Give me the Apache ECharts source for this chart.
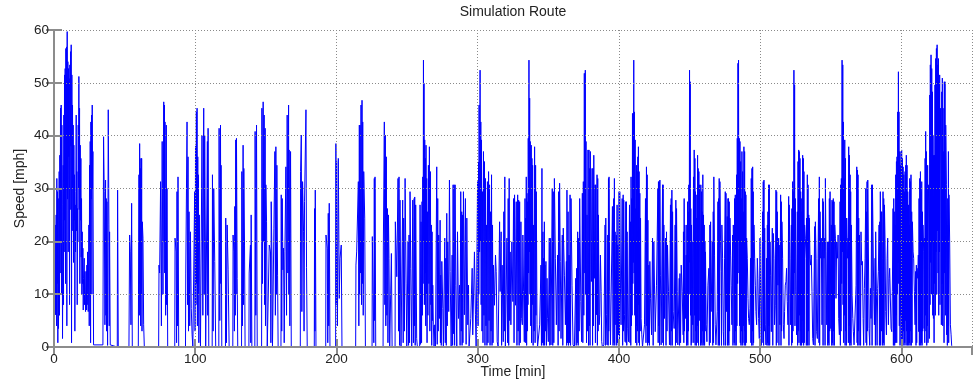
<!DOCTYPE html>
<html>
<head>
<meta charset="utf-8">
<script src="https://cdn.jsdelivr.net/npm/echarts@6/dist/echarts.min.js"></script>
<style>
html,body{margin:0;padding:0;background:#fff;}
#chart{width:974px;height:386px;}
</style>
</head>
<body>
<div id="chart"></div>
<script>
// Time [min], Speed [mph] pairs
const routeA = [
[0,0.4],[0.36,23.7],[0.6,8],[0.83,23.1],[1.06,6.1],[1.54,25],[1.78,4],[2.01,31.9],[2.25,12],[2.48,29.4],[2.72,0.8],[2.96,28.1],[3.19,3.5],[3.67,33.2],[3.9,6],[4.14,36.3],[4.38,14],[4.61,45.2],[4.85,20],[5.08,45.8],[5.32,10],[5.56,42],[5.79,26.9],[6.03,1.6],[6.5,34.4],[6.74,8],[6.98,43.9],[7.2,18],[7.45,51.5],[7.68,24],[7.92,52.7],[8.15,12],[8.39,56.5],[8.63,30],[8.87,56.8],[9.1,4],[9.34,59.7],[9.57,28],[9.81,54],[10.05,18],[10.28,52.7],[10.52,36],[10.76,50.8],[11.0,8],[11.23,53.4],[11.46,26],[11.7,55.9],[11.94,38],[12.18,57.2],[12.42,0.8],[12.65,51.5],[12.88,22],[13.12,45.8],[13.35,30],[13.59,42],[13.83,16],[14.07,38.2],[14.3,24],[14.54,32.6],[14.77,3],[15.01,26.9],[15.25,18],[15.49,29.4],[15.72,43.9],[15.95,22],[16.19,33.2],[16.43,8],[16.67,26.2],[16.9,20],[17.14,42],[17.37,30],[17.61,51.2],[17.85,26],[18.09,45.2],[18.32,12],[18.56,38.2],[18.8,24],[19.03,35.7],[19.26,17],[19.5,28.1],[19.74,10],[19.98,21.8],[20.2,12],[20.45,18.7],[20.7,7],[20.92,13],[21.4,16.8],[21.63,8],[21.87,14.3],[22.34,6.7],[22.81,14.3],[23.05,7],[23.29,15.5],[23.52,8],[23.76,18],[24.23,6.7],[24.71,23.1],[24.95,4],[25.18,34.4],[25.4,20],[25.65,38.9],[25.9,0.8],[26.12,42.6],[26.36,28],[26.6,43.9],[26.84,10],[27.07,45.8],[27.3,30],[27.54,37],[28.01,0.4],
[34.63,0.4],[35.1,39.8],[35.58,29.4],[36.05,4.2],[36.52,31.6],[36.75,6],[37.0,28.1],[37.25,3],[37.47,27.5],[37.94,0.3],[38.42,44.9],[38.89,23.1],[39.1,4],[39.36,21.8],[39.83,0.4],
[44.8,0],[45.03,29.7],[45.51,0],[53.07,0],[53.55,21.2],[54.02,18],[54.49,4.2],[54.97,27.2],[55.44,0],
[59.69,0],[60.17,32.6],[60.4,6],[60.64,38.5],[60.9,12],[61.11,33.8],[61.35,4],[61.58,35.7],[61.8,10],[62.06,35.7],[62.3,3],[62.53,23.7],[63.0,20.6],[63.48,4.2],[63.95,0],
[74.1,0],[74.35,15.5],[74.8,14],[75.5,31.3],[76.05,4],[76.6,38.9],[77.15,10],[77.7,46.4],[77.95,20],[78.2,45.8],[78.4,14],[78.6,42.6],[79.05,6],[79.5,42],[79.75,8],[80.0,30],[80.5,0],
[85.5,0],[85.7,20.6],[86.5,18],[86.8,0.8],[87.1,29.4],[87.45,4],[87.8,32.2],[88.3,0],
[93.1,0],[93.3,14],[94.2,42.6],[94.55,8],[94.9,36],[95.25,3],[95.6,25.6],[96.1,4],[96.6,21.8],[97.2,7.3],[97.8,2.3],[98.3,0],
[99.4,0],[99.6,29.4],[99.9,3],[100.2,38],[100.5,8],[100.8,44.5],[101.05,12],[101.3,45.2],[101.55,4],[101.8,36],[102.0,10],[102.2,32.6],[102.55,0.8],[102.9,25],[103.7,0],
[104.6,0],[104.8,40],[105.4,6],[106.0,45.2],[106.35,10],[106.7,40],[107.2,20],[107.4,0],
[108.4,0],[108.6,38.9],[108.85,6],[109.1,41.4],[109.6,0],
[112.0,0],[112.2,32.6],[112.65,3],[113.1,30],[113.8,16.2],[114.5,0],
[116.7,0],[116.9,41.4],[117.4,5],[117.9,42],[118.1,12],[118.3,34.4],[118.8,0],
[121.4,0],[121.6,24.4],[122.1,0.8],[122.6,23.1],[123.3,14.6],[124.0,0]
];
const routeB = [
[126.6,0],[126.8,21.2],[127.4,18],[127.7,3],[128.0,26.6],[128.35,6],[128.7,39.2],[128.95,10],[129.2,39.5],[129.7,13],[130.1,0],
[132.8,0],[133.0,33.2],[133.45,4],[133.9,38.2],[134.15,8],[134.4,33.8],[134.9,19.3],[135.3,0],
[138.0,0],[138.2,14],[139.1,19.3],[139.35,0.8],[139.6,25],[140.1,0],
[142.2,0],[142.4,40.8],[142.9,6],[143.4,42],[143.9,0],
[147.0,0],[147.2,45.2],[147.65,12],[148.1,46.4],[148.45,20],[148.8,43.9],[149.15,8],[149.5,41.4],[149.75,4],[150.0,30.7],[150.5,23.7],[151.0,0],
[152.2,0],[152.4,19.3],[153.3,18],[153.55,0.8],[153.8,27.5],[154.3,17.4],[154.7,0],
[155.5,0],[155.7,22.5],[156.4,37],[156.75,6],[157.1,37.9],[157.45,10],[157.8,34.4],[158.3,13.6],[158.7,0],
[160.7,0],[160.9,28.8],[161.25,3],[161.6,28.1],[162.1,14.6],[162.5,18.7],[163.0,0.8],[163.5,18],[164.2,34.1],[164.65,6],[165.1,43.9],[165.6,14],[166.1,45.8],[166.3,10],[166.5,37.3],[167.0,4],[167.5,37],[168.0,0],
[174.4,0],[174.6,33.2],[175.1,40.1],[175.5,6.7],[176.0,31.3],[176.7,21.8],[177.05,3],[177.4,27.5],[178.4,44.9],[178.8,15.1],[179.3,0],
[184.3,0],[184.5,26.2],[184.75,3],[185.0,29.7],[185.5,0],
[192.4,0],[192.6,21.2],[193.5,18.7],[193.85,0.8],[194.2,25.3],[194.55,4],[194.9,27.2],[195.4,0],
[199.4,0],[199.6,38.5],[199.85,8],[200.1,35.1],[200.7,4],[201.3,35.7],[202.0,9.2],[202.5,16.8],[203.4,19.3],[203.9,0],
[213.6,0],[213.8,15.5],[214.3,18],[215.5,31.3],[215.85,4],[216.2,42],[216.45,10],[216.7,42],[217.05,14],[217.4,45.8],[217.75,8],[218.1,46.7],[218.35,12],[218.6,42.6],[218.95,6],[219.3,33.2],[220.0,24.4],[220.5,0],
[225.2,0],[225.4,20.9],[226.1,20.6],[226.45,0.8],[226.8,31.9],[227.05,5],[227.3,32.2],[227.8,0],
[233.0,0],[233.2,19.3],[233.9,42.6],[234.25,8],[234.6,40.1],[234.95,4],[235.3,36],[235.7,6],[236.1,26.2],[236.45,0.8],[236.8,25],[237.2,16.8],[237.7,0],
[238.7,0],[238.9,17.7],[239.4,0],
[241.5,0],[241.7,23.7],[242.7,13.3],[243.6,31.9],[243.95,3],[244.3,32.2],[244.65,0.3],[245.0,27.8],[245.7,0],
[246.7,0],[246.9,27.8],[247.25,0.8],[247.6,24.4],[248.1,3],[248.6,31.9],[249.3,12.1],[249.8,0],
[250.5,0],[250.7,20],[251.05,0.3],[251.4,21.2],[251.75,0.8],[252.1,29.4],[252.6,14.9],[253.3,0],
[253.8,0],[254.0,27.8],[254.5,0.8],[255.0,28.1],[255.2,4],[255.4,28.4],[255.75,0.3],[256.1,26.9],[256.8,1.6],[257.3,0]
];
const routeC = [
[258.9,0],[259.2,26.9],[259.55,0.5],[259.9,23.7],[260.25,0.8],[260.6,27.5],[260.85,6],[261.1,32.2],[261.35,12],[261.6,54.3],[261.8,20],[262.0,49.9],[262.25,8],[262.5,39.2],[262.75,14],[263.0,35.7],[263.2,4],[263.4,38.2],[263.65,10],[263.9,31.9],[264.15,0.8],[264.4,25.6],[264.75,6],[265.1,34.4],[265.45,12],[265.8,37.9],[266.15,3],[266.5,33.2],[266.85,8],[267.2,23.1],[267.45,0.3],[267.7,21.8],[267.95,5],[268.2,11.7],[268.6,4.2],[269.1,0],[269.6,4.2],[270.1,0],
[270.8,0],[271.0,34.1],[271.35,0.5],[271.7,28.1],[272.05,3],[272.4,21.2],[272.9,5.4],[273.4,24],[273.6,0.8],[273.8,13.6],[274.2,0.3],[274.6,16.2],[275.3,7.3],[275.7,0],
[276.5,0],[276.7,20.6],[277.05,0.8],[277.4,16.8],[277.75,0.3],[278.1,25.3],[278.45,4],[278.8,19.9],[279.5,6.7],[280.0,31.6],[280.5,14.3],[281.2,0],
[281.7,0],[281.9,17.4],[282.25,0.3],[282.6,30.7],[282.95,2.5],[283.3,30.7],[283.65,0.3],[284.0,30.7],[284.5,11.7],[285.2,0],
[285.7,21.8],[286.4,5.4],[287.1,11.7],[287.55,0.3],[288.0,29.4],[288.35,3],[288.7,25.6],[288.95,0.3],[289.2,25],[289.55,0.8],[289.9,29.4],[290.6,6.1],[291.3,28.1],[291.8,0.5],[292.3,24.4],[293.0,4.2],[293.5,11.7],[293.9,0],
[295.1,5.4],[296.1,14.9],[296.5,2.3],[297.7,18],[298.4,6.1],[298.9,0],
[299.9,31.3],[300.25,4],[300.6,35],[300.8,10],[301.0,45.8],[301.35,18],[301.7,52.4],[301.95,20],[302.2,42.6],[302.45,8],[302.7,39.2],[303.05,3],[303.4,29.4],[303.75,0.8],[304.1,37],[304.45,6],[304.8,35.1],[305.15,0.3],[305.5,31.9],[305.85,4],[306.2,23.1],[306.55,0.3],[306.9,31.3],[307.3,0.8],[307.7,33.2],[308.05,5],[308.4,30.7],[308.75,0.3],[309.1,25.6],[309.45,3],[309.8,32.6],[310.15,0.3],[310.5,23.1],[310.85,0.8],[311.2,15.5],[311.9,7.9],[312.6,17.4],[313.1,14.3],[313.8,1.0],[314.5,0],
[315.5,23.7],[315.9,10.5],[316.6,21.8],[316.95,0.3],[317.3,15.5],[318.1,1.0],[318.5,25.6],[318.85,3],[319.2,32.2],[319.6,0],
[320.5,0],[320.7,20.6],[321.15,0.8],[321.6,28.1],[321.95,0.3],[322.3,31.9],[322.65,5],[323.0,18],[323.5,4.2],[324.2,19.9],[324.9,8.6],[325.4,28.1],[325.75,0.8],[326.1,28.8],[326.8,7.9],[327.3,27.5],[327.8,0.3],[328.3,28.8],[328.65,3],[329.0,27.8],[329.35,0.3],[329.7,27.5],[330.15,0.8],[330.6,23.7],[331.1,5.4],[331.6,4.2],[332.0,21.2],[332.5,10.5],[333.0,1.0],[333.5,28.1],[333.75,0.8],[334.0,24.4],[334.2,4],[334.4,32.2],[334.65,0.3],[334.9,29.1],[335.15,3],[335.4,27.5],[335.6,8],[335.8,39.5],[336.05,14],[336.3,54.3],[336.55,18],[336.8,47.1],[337.0,10],[337.2,38.9],[337.55,4],[337.9,38.2],[338.15,0.8],[338.4,35.7],[338.65,8],[338.9,34.4],[339.25,0.3],[339.6,23.1],[339.95,3],[340.3,37.9],[340.65,0.8],[341.0,34.4],[341.25,6],[341.5,29.4],[342.0,4.2],[342.4,0],
[343.9,4.2],[344.8,15.5],[345.15,0.3],[345.5,33.8],[345.85,0.8],[346.2,21.8],[346.45,0.3],[346.7,16.8],[346.95,0.8],[347.2,23.7],[347.4,0.3],[347.6,15.5],[347.95,3],[348.3,16.2],[348.7,0.3],[349.1,13.0],[349.5,5.4],[350.0,1.0],[350.7,20.6],[351.05,0.3],[351.4,20.6],[351.9,0.4],
[352.8,30],[353.15,0.3],[353.5,29.4],[353.9,0.8],[354.3,31.9],[355.0,16.8],[355.7,4.2],[356.6,17.4],[356.95,0.3],[357.3,29.4],[357.65,3],[358.0,31.0],[358.5,16.2],[359.0,1.6],
[359.9,21.2],[360.25,0.3],[360.6,22.5],[361.4,13.6],[362.1,4.2],[362.8,16.2],[363.0,0.3],[363.2,29.7],[363.6,0.8],[364.0,25.6],[364.35,0.3],[364.7,17.4],[365.05,0.8],[365.4,28.8],[365.75,0.3],[366.1,28.1],[366.8,11.7],[367.5,0.4],
[368.5,0],[369.4,13.0],[369.75,0.3],[370.1,14.9],[370.45,0.8],[370.8,21.8],[371.15,0.3],[371.5,20.6],[371.85,3],[372.2,28.1],[373.0,8.6],[373.6,1.0],[374.1,29.1],[374.45,0.8],[374.8,31.3],[375.15,6],[375.5,51.8],[375.85,14],[376.2,52.4],[376.45,10],[376.7,38.9],[377.05,0.8],[377.4,25.0],[377.75,3],[378.1,37.3],[378.45,0.3],[378.8,37.3],[379.05,4],[379.3,33.8],[379.55,0.3],
[379.8,37],[380.5,12.4],[381.0,33.8],[381.35,0.3],[381.7,33.8],[381.95,4],[382.2,36.3],[382.6,13],[383.1,30.7],[383.35,0.8],[383.6,30.7],[384.1,6.1],[384.5,32.6],[384.75,0.3],[385.0,31.9],[385.25,3],[385.5,25],[386.0,4.2],[386.4,6.1],[386.9,17.4],[387.4,10.5],[387.8,1.0],[388.3,0],[389.3,0.4],[390.2,23.1],[390.45,0.3],[390.7,24.4],[391.1,6.1],[391.6,0.4],[392.1,21.2],[392.35,0.3],[392.6,31.9],[392.8,3],[393.0,32.2],[393.5,10.5],[394.0,0.4],[395.4,26.6],[395.85,0.3],[396.3,28.1],[396.55,0.8],[396.8,31.9],[397.05,0.3],[397.3,21.8],[397.8,4.2],[398.2,21.2],[398.45,0.3],[398.7,26.9],[398.95,0.8],[399.2,19.3],[399.7,2.3],[400.1,29.4],[400.35,0.3],[400.6,29.4],[401.1,11.1],[401.5,4.2],[402.3,28.1],[402.65,0.3],[403.0,28.8],[403.2,3],[403.4,27.8],[403.9,6.1],[404.4,1.0],[404.9,27.5],[405.1,0.8],[405.3,27.5],[405.55,0.3],[405.8,21.8],[406.3,3.5],[406.8,1.0],[407.5,26.9],[407.85,0.8],[408.2,23.7],[408.4,0.3],[408.6,32.2],[408.85,4],[409.1,28.1],[409.35,6],[409.6,44.2],[409.85,12],[410.1,44.2],[410.3,16],[410.5,54.3],[410.75,14],[411.0,44.5],[411.25,6],[411.5,39.2],[411.75,0.8],[412.0,26.2],[412.2,4],[412.4,34.4],[412.65,0.3],[412.9,33.2],[413.15,3],[413.4,36.0],[413.6,8],[413.8,37.9],[414.05,0.8],[414.3,33.2],[414.55,0.3],[414.8,29.1],[415.05,3],[415.3,24.4],[415.7,5.4],[416.2,2.3],[416.7,0],[418.1,4.2],[418.8,28.1],[419.15,0.8],[419.5,34.1],[419.75,4],[420.0,32.6],[420.25,0.3],[420.5,24.0],[420.85,0.8],[421.2,15.5],[421.55,0.3],[421.9,16.2],[422.4,9.2],[423.1,2.3],[423.8,20.6],[424.25,0.3],[424.7,19.9],[425.7,2.9],[426.6,11.7],[427.6,30],[427.8,0.8],[428.0,31.3],[428.25,4],[428.5,31.3],[428.75,0.3],[429.0,31.6],[429.4,13.6],[429.9,0.4],[430.9,30.7],[431.1,0.8],[431.3,30.7],[431.55,0.3],[431.8,23.1],[432.3,5.4],[433.0,20.6],[433.35,0.3],[433.7,21.8],[434.05,3],[434.4,19.3],[435.1,10.5],[435.8,0.4],[436.5,26.9],[436.75,0.3],[437.0,28.1],[437.25,3],[437.5,29.7],[437.75,0.3],[438.0,25.6],[438.4,6.7],[439.1,3.5],[439.8,23.1],[440.05,0.3],[440.3,27.8],[440.55,0.8],[440.8,26.2],[441.3,10.5],[441.7,0.4],[442.7,13],[442.95,0.3],[443.2,13.9],[443.65,0.8],[444.1,15.5],[444.8,10.5],[445.5,2.3]
];
const routeD = [
[445.7,21.8],[445.95,0.8],[446.2,28.1],[446.45,3],[446.7,23.1],[447.1,5.4],[447.6,17.4],[447.85,0.3],[448.1,23.1],[448.35,0.8],[448.6,27.5],[448.8,0.3],[449.0,25.6],[449.25,3],[449.5,30.7],[449.75,10],[450.0,52.4],[450.25,16],[450.5,50.2],[450.7,6],[450.9,26.2],[451.15,0.3],[451.4,23.1],[451.65,0.8],[451.9,19.9],[452.3,4.2],[452.8,32.2],[453.05,0.8],[453.3,37.3],[453.55,6],[453.8,35.7],[454.0,0.3],[454.2,29.4],[454.45,3],[454.7,24.4],[454.95,0.3],[455.2,28.8],[455.45,4],[455.7,36.3],[455.9,0.8],[456.1,33.8],[456.35,0.3],[456.6,33.2],[456.85,5],[457.1,30.7],[457.5,19.9],[457.75,0.3],[458.0,30.7],[458.25,0.8],[458.5,29.4],[458.75,0.3],[459.0,25.6],[459.2,3],[459.4,32.6],[459.65,0.3],[459.9,25],[460.15,0.8],[460.4,23.1],[460.65,0.3],[460.9,19.9],[461.1,3],[461.3,18],[461.8,4.2],[462.3,1.0],[463.0,11.7],[463.7,14.9],[464.05,0.3],[464.4,23.1],[464.65,0.8],[464.9,23.7],[465.3,6.7],[466.1,19.9],[466.45,0.3],[466.8,25.6],[467.0,0.8],[467.2,32.2],[467.7,17.4],[468.2,4.2],[468.7,0.4],[469.6,6.7],[470.1,27.5],[470.35,0.3],[470.6,28.1],[470.8,0.8],[471.0,31.9],[471.25,0.3],[471.5,31.3],[472.0,19.3],[472.4,14.3],[472.65,0.3],[472.9,23.1],[473.4,16.8],[473.9,2.9],[474.3,0.3],[474.8,16.8],[475.3,29.4],[475.55,0.3],[475.8,29.1],[476.2,6.7],[476.7,24.7],[476.95,0.3],[477.2,28.1],[477.4,0.8],[477.6,28.1],[477.85,0.3],[478.1,27.5],[478.35,3],[478.6,24.4],[479.1,17.4],[479.5,11.7],[480.0,4.2],[480.5,21.2],[480.75,0.3],[481.0,23.1],[481.4,16.8],[481.65,0.8],[481.9,28.1],[482.15,0.3],[482.4,28.8],[482.6,3],[482.8,27.5],[483.05,0.3],[483.3,32.6],[483.55,4],[483.8,39.5],[484.05,12],[484.3,53.7],[484.5,20],[484.7,54.3],[484.95,14],[485.2,39.5],[485.45,4],[485.7,38.9],[485.95,0.8],[486.2,35.1],[486.4,0.3],[486.6,28.1],[486.85,3],[487.1,37],[487.35,0.3],[487.6,33.2],[487.8,0.8],[488.0,25.6],[488.25,4],[488.5,37.9],[488.75,0.3],[489.0,37],[489.25,3],[489.5,29.4],[489.7,0.3],[489.9,28.8],[490.15,0.8],[490.4,20.6],[490.9,16.8],[491.4,9.2],[491.8,5.4],[492.3,4.2],[492.8,7.3],[493.2,16.8],[493.45,0.8],[493.7,31.9],[493.95,0.3],[494.2,33.8],[494.45,3],[494.7,34.1],[494.9,0.3],[495.1,29.4],[495.35,0.8],[495.6,23.1],[496.1,16.8],[496.6,11.7],[497.0,6.7],[497.5,4.2],[498.0,16.8],[498.4,13],[498.9,5.4],[499.4,1.6],[499.9,20.6],[500.3,10.5],[500.8,0.3],[501.8,25.6],[502.0,0.8],[502.2,31.3],[502.45,0.3],[502.7,31.6],[502.95,3],[503.2,22.5],[503.6,4.2],[504.1,0.4],[504.6,16.8],[504.85,0.3],[505.1,23.1],[505.3,0.8],[505.5,25.6],[505.75,0.3],[506.0,30.7],[506.25,4],[506.5,30.7],[506.75,0.3],[507.0,19.9],[507.4,13.6],
[507.9,2.9],[508.6,22.5],[508.95,0.3],[509.3,21.5],[509.8,16.8],[510.2,4.2],[510.7,7.9],[511.2,29.7],[511.45,0.3],[511.7,29.4],[511.9,0.8],[512.1,25.6],[512.6,11.7],[513.1,20.6],[513.3,0.3],[513.5,19.3],[514.0,4.2],[514.5,28.8],[514.75,0.3],[515.0,27.5],[515.2,3],[515.4,23.7],[515.9,16.8],[516.4,4.2],[516.9,1.6],[517.3,6.7],[517.8,11.7],[518.3,12.4],[518.7,14.9],[519.2,8.6],[519.7,4.2],[520.2,28.5],[520.4,0.3],[520.6,26.9],[521.1,16.8],[521.6,4.2],[522.1,23.1],[522.3,0.3],[522.5,26.2],[522.75,0.8],[523.0,31.3],[523.25,3],[523.5,29.4],[523.7,10],[523.9,52.4],[524.15,14],[524.4,49.6],[524.65,4],[524.9,28.1],[525.4,10.5],[525.8,2.3],[526.3,25.6],[526.55,0.3],[526.8,35.1],[527.05,3],[527.3,37.3],[527.5,0.8],[527.7,37],[527.95,6],[528.2,35.7],[528.45,0.3],[528.7,29.4],[528.9,3],[529.1,28.1],[529.35,0.3],[529.6,25.6],[529.85,0.8],[530.1,36.3],[530.35,5],[530.6,35.7],[530.8,0.3],[531.0,33.2],[531.25,0.8],[531.5,23.1],[532.0,20.6],[532.5,16.8],[532.7,0.3],[532.9,24.4],[533.15,0.8],[533.4,32.6],[533.65,0.3],[533.9,30.7],[534.15,3],[534.4,25],[534.6,0.3],[534.8,24.4],[535.3,16.8],[535.8,15.5],[536.2,17.4],[536.7,10.5],[537.2,1.6],[537.7,0.4],[538.1,10.5],[538.6,22.8],[538.85,0.3],[539.1,23.7],[539.6,16.8],[540.0,2.9],[540.5,1.6],[541.0,16.8],[541.4,28.1],[541.65,0.8],[541.9,32.2],[542.15,0.3],[542.4,25.6],[542.9,16.8],[543.3,20.6],[543.8,4.2],[544.3,28.1],[544.55,0.3],[544.8,27.5],[545.2,16.8],[545.7,20.6],[545.95,0.3],[546.2,31.9],[546.6,18],[547.1,4.2],[547.6,19.9],[547.85,0.3],[548.1,18.7],[548.3,0.8],[548.5,19.9],[548.75,0.3],[549.0,28.1],[549.25,3],[549.5,29.4],[550.0,3.5],[550.4,23.1],[550.65,0.3],[550.9,27.8],[551.15,0.8],[551.4,27.5],[551.6,0.3],[551.8,28.1],[552.05,3],[552.3,27.5],[552.55,0.3],[552.8,23.1],[553.3,20.6],[553.7,9.2],[554.2,19.9],[554.7,16.8],[555.2,21.2],[555.6,5.4],[556.1,2.3],[556.6,27.5],[556.8,0.3],[557.0,30.7],[557.25,3],[557.5,31.9],[557.75,12],[558.0,54.3],[558.25,18],[558.5,53.4],[558.7,8],[558.9,42.6],[559.15,0.8],[559.4,31.9],[559.65,6],[559.9,39.2],[560.15,0.3],[560.4,35.7],[560.6,3],[560.8,24.4],[561.05,0.3],[561.3,24.4],[561.8,16.8],[562.2,20.6],[562.45,0.8],[562.7,37.9],[562.95,4],[563.2,36.3],[563.45,0.3],[563.7,32.6],[563.9,0.8],[564.1,29.4],[564.35,0.3],[564.6,23.1],[565.1,9.8],[565.6,5.4],[566.0,2.9],[566.5,0.4],[567.4,0.3],[567.9,11.7],[568.4,34.1],[568.65,0.8],[568.9,33.5],[569.1,0.3],[569.3,32.6],[569.55,3],[569.8,24.4],[570.05,0.3],[570.3,21.2],[570.8,15.5],
[571.1,0.3],[571.4,21.8],[571.9,15.5],[572.4,16.2],[572.9,5.4],[573.3,0.3],[573.8,11.1],[574.3,16.8],[574.8,30],[575.0,0.8],[575.2,25.6],[575.45,0.3],[575.7,31.3],[575.95,3],[576.2,31.6],[576.6,19.9],[577.1,3.5],[577.6,0.3],[578.1,11.1],[578.5,5.4],[579.0,30.7],[579.25,0.3],[579.5,30.7],[579.9,21.8],[580.4,10.5],[580.9,4.2],[581.4,16.8],[581.6,0.3],[581.8,21.8],[582.3,10.5],[582.8,0.3],[583.2,11.1],[583.7,14.3],[584.2,23.1],[584.45,0.3],[584.7,23.7],[584.9,0.8],[585.1,29.4],[585.35,0.3],[585.6,25.6],[585.85,3],[586.1,25.6],[586.5,16.8],[586.75,0.3],[587.0,29.4],[587.25,0.8],[587.5,28.1],[587.75,0.3],[588.0,26.9],[588.4,20.6],[588.9,6.7],[589.4,2.3],[589.9,16.8],[590.3,20.6],[590.8,4.2],[591.3,13],[591.7,14.9],[592.2,14.9],[592.7,3.5],[593.2,2.9],[593.6,10.5],[594.1,26.2],[594.35,0.3],[594.6,28.1],[594.8,3],[595.0,25.6],[595.25,0.3],[595.5,23.1],[595.75,0.8],[596.0,32.6],[596.25,6],[596.5,35.1],[596.7,0.8],[596.9,36],[597.15,10],[597.4,44.5],[597.65,16],[597.9,52.1],[598.1,12],[598.3,44.5],[598.55,4],[598.8,37],[599.05,0.3],[599.3,34.4],[599.55,6],[599.8,37],[600.0,0.8],[600.2,37.3],[600.45,4],[600.7,35.7],[600.95,0.3],[601.2,34.1],[601.45,3],[601.7,32.6],[601.9,0.3],[602.1,29.4],[602.35,0.8],[602.6,33.2],[602.85,5],[603.1,34.4],[603.3,0.3],[603.5,36.3],[603.75,3],[604.0,34.4],[604.25,0.3],[604.5,29.4],[604.75,0.8],[605.0,26.9],[605.2,0.3],[605.4,23.1],[605.65,0.8],[605.9,31.9],[606.15,0.3],[606.4,31.3],[606.6,3],[606.8,32.6],[607.05,0.3],[607.3,25.6],[607.55,0.8],[607.8,23.7],[608.3,18],[608.7,16.8],[609.2,10.5],[609.7,4.2],[610.1,14.3],[610.35,0.3],[610.6,15.5],[610.85,0.8],[611.1,14.9],[611.6,13],[612.0,17.4],[612.3,2.9],[612.5,28.1],[612.75,0.3],[613.0,31.9],[613.25,3],[613.5,33.2],[613.7,0.3],[613.9,29.4],[614.15,0.8],[614.4,31.3],[614.65,0.3],[614.9,25.6],[615.1,3],[615.3,23.1],[615.8,18],[616.1,3.5],[616.3,20.6],[616.55,0.8],[616.8,35.7],[617.0,6],[617.2,40.8],[617.45,3],[617.7,37],[617.95,0.3],[618.2,29.4],[618.4,4],[618.6,34.4],[618.85,0.8],[619.1,30.7],[619.6,23.1],[619.8,1.6],[620.1,47.7],[620.3,8],[620.5,53.4],[620.75,16],[621.0,55.3],[621.25,10],[621.5,52.7],[621.75,20],[622.0,48.3],[622.2,6],[622.4,40.1],[622.7,5.4],[622.9,36.3],[623.15,0.8],[623.4,36.3],[623.6,12],[623.8,49.6],[624.05,6],[624.3,54.6],[624.55,18],[624.8,56.5],[625.05,10],[625.3,57.2],[625.5,22],[625.7,53.4],[625.95,14],[626.2,54.6],[626.45,6],[626.7,50.2],[626.9,18],[627.1,51.5],[627.35,8],[627.6,45.2],[628.1,32.6],[628.3,4.2],[628.6,48.3],[628.8,12],[629.0,50.9],[629.25,4],[629.5,45.2],[629.75,10],[630.0,37],[630.2,0.8],[630.4,50.2],[630.65,14],[630.9,50.2],[631.15,6],[631.4,42],[631.9,30.7],[632.1,2.3],[632.3,23.1],[632.55,0.3],[632.8,28.1],[633.05,4],[633.3,37],[633.5,0.8],[633.7,28.8],[634.2,19.9],[634.7,4.2],[635.2,2.3],[635.6,0.3],[636.1,0]
];
const xTicks = [0, 100, 200, 300, 400, 500, 600];
const yTicks = [0, 10, 20, 30, 40, 50, 60];

const FONT = '"Liberation Sans", Arial, Helvetica, sans-serif';
const route = routeA.concat(routeB, routeC, routeD);

const chart = echarts.init(document.getElementById('chart'), null, {renderer: 'canvas'});
const frameColor = '#8c8c8c';
const gridLine = {show: true, lineStyle: {color: '#8a8a8a', width: 1, type: [1, 2]}};
const xMin = xTicks[0], xMax = 650, xStep = xTicks[1] - xTicks[0];
const yMin = yTicks[0], yMax = yTicks[yTicks.length - 1], yStep = yTicks[1] - yTicks[0];

chart.setOption({
  animation: false,
  backgroundColor: '#fff',
  title: {
    text: 'Simulation Route',
    left: 508, top: 0, textAlign: 'center',
    textStyle: {fontFamily: FONT, fontSize: 14, fontWeight: 'normal', color: '#222'}
  },
  grid: {left: 54, right: 2, top: 30, bottom: 39, containLabel: false},
  xAxis: [
    {
      type: 'value', position: 'bottom', min: xMin, max: xMax, interval: xStep, z: 5,
      name: 'Time [min]', nameLocation: 'middle', nameGap: 18, nameMoveOverlap: false,
      nameTextStyle: {fontFamily: FONT, fontSize: 14, color: '#222'},
      axisLine: {show: true, lineStyle: {color: frameColor, width: 2}},
      axisTick: {show: true, inside: true, length: 8, lineStyle: {color: frameColor, width: 2}},
      axisLabel: {show: true, showMaxLabel: false, margin: 5, fontFamily: FONT, fontSize: 13.5, color: '#222'},
      splitLine: gridLine
    },
    {
      type: 'value', position: 'top', min: xMin, max: xMax, interval: xStep, z: 5,
      axisLine: {show: true, lineStyle: {color: frameColor, width: 2}},
      axisTick: {show: true, inside: true, length: 8, lineStyle: {color: frameColor, width: 2}},
      axisLabel: {show: false}, splitLine: {show: false}
    }
  ],
  yAxis: [
    {
      type: 'value', position: 'left', min: yMin, max: yMax, interval: yStep, z: 5,
      name: 'Speed [mph]', nameLocation: 'middle', nameGap: 27, nameMoveOverlap: false,
      nameTextStyle: {fontFamily: FONT, fontSize: 14, color: '#222'},
      axisLine: {show: true, lineStyle: {color: '#333', width: 1}},
      axisTick: {show: true, inside: true, length: 8, lineStyle: {color: frameColor, width: 2}},
      axisLabel: {show: true, margin: 5, fontFamily: FONT, fontSize: 13.5, color: '#222'},
      splitLine: gridLine
    },
    {
      type: 'value', position: 'right', min: yMin, max: yMax, interval: yStep, z: 5,
      axisLine: {show: true, lineStyle: {color: frameColor, width: 2}},
      axisTick: {show: true, inside: true, length: 8, lineStyle: {color: frameColor, width: 2}},
      axisLabel: {show: false}, splitLine: {show: false}
    }
  ],
  series: [{
    type: 'line', xAxisIndex: 0, yAxisIndex: 0, z: 2,
    data: route, showSymbol: false, symbol: 'none',
    lineStyle: {color: '#0000ff', width: 1}, sampling: null, silent: true
  }]
});
</script>
</body>
</html>
